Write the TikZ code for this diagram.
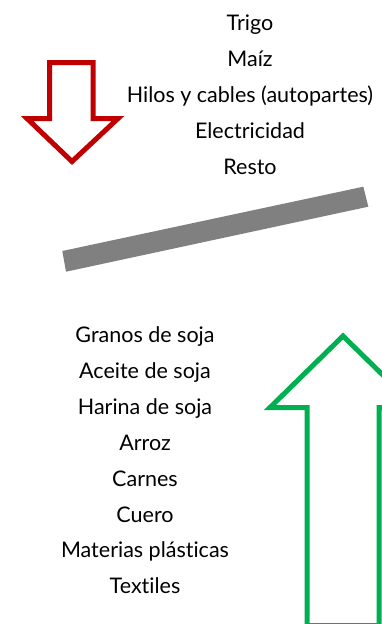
\documentclass[tikz,border=0pt]{standalone}
\usepackage{fontspec}
\setmainfont{Lato}[Ligatures=NoCommon]
\definecolor{arrowred}{HTML}{C00000}
\definecolor{arrowgreen}{HTML}{00B050}
\definecolor{bargray}{HTML}{808080}
\begin{document}
\begin{tikzpicture}[x=1pt,y=-1pt,
  lbl/.style={font=\fontsize{21.5}{24}\selectfont, inner sep=0pt, anchor=base},
  outline/.style={line width=5pt, miter limit=10, line join=miter}]
\useasboundingbox (0,0) rectangle (381,624);
% top list
\node[lbl] (trigo) at (250,30) {Trigo};
\node[lbl] (maiz) at (250,66) {Maíz};
\node[lbl] (hilos) at (250,102) {Hilos y cables (autopartes)};
\node[lbl] (elec) at (250,138) {Electricidad};
\node[lbl] (resto) at (250,174) {Resto};
% bottom list
\node[lbl] (granos) at (145,342) {Granos de soja};
\node[lbl] (aceite) at (145,378) {Aceite de soja};
\node[lbl] (harina) at (145,414) {Harina de soja};
\node[lbl] (arroz) at (145,450) {Arroz};
\node[lbl] (carnes) at (145,486) {Carnes};
\node[lbl] (cuero) at (145,522) {Cuero};
\node[lbl] (mat) at (145,557) {Materias plásticas};
\node[lbl] (text) at (145,593) {Textiles};
% red down arrow
\draw[outline, draw=arrowred, fill=white]
  (49.5,62.5) -- (93,62.5) -- (93,118.5) -- (118,118.5) -- (72,161.5)
  -- (27,118.5) -- (49.5,118.5) -- cycle;
% gray bar
\fill[bargray] (66,271.7) -- (62.3,251) -- (363.3,186.7) -- (368.3,206.7) -- cycle;
% green up arrow
\draw[outline, draw=arrowgreen, fill=white]
  (307,625.5) -- (307,407.5) -- (270,407.5) -- (343,336) -- (416,407.5)
  -- (379,407.5) -- (379,625.5) -- cycle;
\end{tikzpicture}
\end{document}
